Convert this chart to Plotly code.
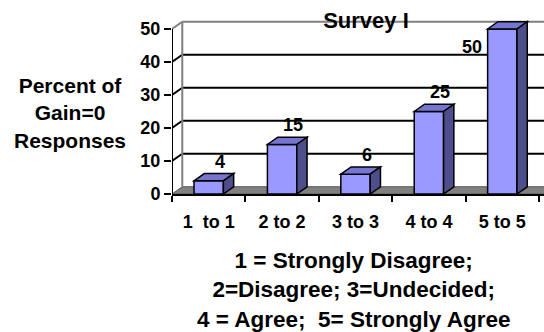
import plotly.graph_objects as go

# Survey I: share of Gain=0 responses by matching pre/post rating
categories = ["1  to 1", "2 to 2", "3 to 3", "4 to 4", "5 to 5"]
percent = [4, 15, 6, 25, 50]
y_ticks = [0, 10, 20, 30, 40, 50]
caption_lines = [
    "1 = Strongly Disagree;",
    "2=Disagree; 3=Undecided;",
    "4 = Agree;  5= Strongly Agree",
]

FONT = "Liberation Sans, Arial, sans-serif"
FRONT = "#9999FF"
TOP = "#7676D2"
SIDE = "#4E4E8C"

# pseudo-3D depth offsets in data units
DX, DY = 0.14, 2.2
BAR_W = 0.40
X_LO, X_HI = -0.5, 4.568
Y_MAX = 50

xs = list(range(len(categories)))

fig = go.Figure()
fig.add_trace(go.Bar(
    x=xs, y=percent, width=BAR_W,
    marker=dict(color=FRONT, line=dict(color="black", width=1.5)),
    hoverinfo="skip",
))

shapes = []
# floor
shapes.append(dict(type="path", layer="below",
                   path=f"M {X_LO},0 L {X_HI + 0.2},0 L {X_HI + 0.2 + DX},{DY} L {X_LO + DX},{DY} Z",
                   fillcolor="#808080", line=dict(color="#555555", width=1)))
# back wall gridlines and side-wall diagonals
for v in y_ticks[1:]:
    col = "#808080" if v == Y_MAX else "black"
    shapes.append(dict(type="line", layer="below", x0=X_LO + DX, x1=X_HI + 0.3,
                       y0=v + DY, y1=v + DY, line=dict(color=col, width=2)))
    shapes.append(dict(type="line", layer="below", x0=X_LO, x1=X_LO + DX,
                       y0=v, y1=v + DY, line=dict(color=col, width=2)))
# left wall back edge
shapes.append(dict(type="line", layer="below", x0=X_LO + DX, x1=X_LO + DX,
                   y0=DY, y1=Y_MAX + DY, line=dict(color="#808080", width=2)))
# front value axis
shapes.append(dict(type="line", layer="above", x0=X_LO, x1=X_LO, y0=0, y1=Y_MAX,
                   line=dict(color="black", width=2)))

# tops and sides of the bars
for x, v in zip(xs, percent):
    l, r = x - BAR_W / 2, x + BAR_W / 2
    shapes.append(dict(type="path", layer="above",
                       path=f"M {l},{v} L {l + DX},{v + DY} L {r + DX},{v + DY} L {r},{v} Z",
                       fillcolor=TOP, line=dict(color="black", width=1.5)))
    shapes.append(dict(type="path", layer="above",
                       path=f"M {r},{v} L {r + DX},{v + DY} L {r + DX},{DY} L {r},0 Z",
                       fillcolor=SIDE, line=dict(color="black", width=1.5)))

annotations = []
# value labels above each bar; a label that would run past the top sits beside its bar
for x, v in zip(xs, percent):
    if v + DY + 3.6 > Y_MAX:
        ax, ay = x - 0.41, v - 5.5
    else:
        ax, ay = x + 0.15, v + DY + 3.6
    annotations.append(dict(x=ax, y=ay, xref="x", yref="y", text=str(v), showarrow=False,
                            xanchor="center", yanchor="middle",
                            font=dict(family=FONT, size=18, color="black", weight="bold")))

annotations.append(dict(x=-0.274, y=0.44, xref="paper", yref="paper",
                        text="Percent of<br>Gain=0<br>Responses", showarrow=False,
                        xanchor="center", yanchor="middle", align="center",
                        font=dict(family=FONT, size=21, color="black", weight="bold")))
annotations.append(dict(x=0.4866, y=-0.522, xref="paper", yref="paper",
                        text="<br>".join(caption_lines), showarrow=False,
                        xanchor="center", yanchor="middle", align="center",
                        font=dict(family=FONT, size=22.5, color="black", weight="bold")))

fig.update_layout(
    width=544, height=332,
    margin=dict(l=172, r=0, t=10, b=138),
    paper_bgcolor="white", plot_bgcolor="white",
    showlegend=False,
    title=dict(text="Survey I", x=366 / 544, y=1 - 20 / 332, xanchor="center", yanchor="middle",
               font=dict(family=FONT, size=22, color="black", weight="bold")),
    shapes=shapes, annotations=annotations,
    xaxis=dict(range=[X_LO, X_HI], tickmode="array", tickvals=xs, ticktext=categories,
               ticks="", showgrid=False, zeroline=False,
               showline=True, linecolor="black", linewidth=2,
               ticklabelstandoff=10,
               tickfont=dict(family=FONT, size=18, color="black", weight="bold"),
               minor=dict(tickmode="linear", tick0=-0.5, dtick=1, ticks="outside",
                          ticklen=6, tickwidth=2, tickcolor="black", showgrid=False)),
    yaxis=dict(range=[0, 55.76], tickmode="array", tickvals=y_ticks,
               ticks="outside", ticklen=7, tickwidth=2, tickcolor="black",
               showgrid=False, zeroline=False, showline=False,
               tickfont=dict(family=FONT, size=18, color="black", weight="bold")),
)

fig.write_html("out.html")
